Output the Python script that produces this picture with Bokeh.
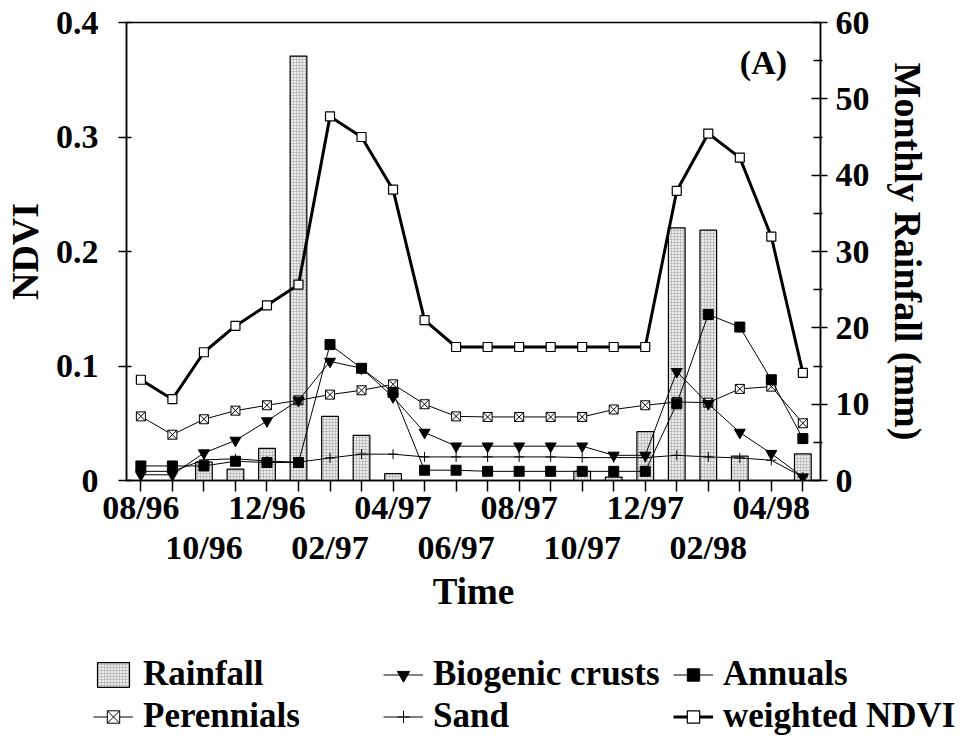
from bokeh.plotting import figure
from bokeh.models import Range1d, LinearAxis, FixedTicker, Legend, LegendItem
from bokeh.layouts import column
from bokeh.core.properties import value
from bokeh.embed import file_html
from bokeh.resources import INLINE

# ---------------- data ----------------
months = ["08/96", "09/96", "10/96", "11/96", "12/96", "01/97", "02/97", "03/97",
          "04/97", "05/97", "06/97", "07/97", "08/97", "09/97", "10/97", "11/97",
          "12/97", "01/98", "02/98", "03/98", "04/98", "05/98"]
rainfall = [0, 0, 2.4, 1.5, 4.2, 55.6, 8.4, 5.9, 0.9, 0, 0, 0, 0, 0, 1.2, 0.45,
            6.4, 33.1, 32.8, 3.2, 0, 3.5]
biogenic = [0.005, 0.005, 0.024, 0.035, 0.052, 0.070, 0.104, 0.098, 0.073, 0.042,
            0.030, 0.030, 0.030, 0.030, 0.030, 0.022, 0.022, 0.095, 0.067, 0.042,
            0.0235, 0.003]
annuals = [0.0127, 0.0127, 0.0127, 0.0168, 0.0157, 0.0157, 0.1187, 0.098, 0.077,
           0.009, 0.009, 0.008, 0.008, 0.008, 0.008, 0.008, 0.008, 0.067, 0.145,
           0.134, 0.088, 0.0366]
perennials = [0.056, 0.040, 0.0535, 0.061, 0.0657, 0.070, 0.075, 0.0788, 0.084,
              0.0666, 0.056, 0.0555, 0.0555, 0.0555, 0.0555, 0.062, 0.0657, 0.0686,
              0.068, 0.080, 0.082, 0.050]
sand = [0.008, 0.008, 0.018, 0.019, 0.017, 0.016, 0.0197, 0.023, 0.023, 0.0206,
        0.0206, 0.0206, 0.0206, 0.0206, 0.020, 0.020, 0.020, 0.022, 0.0206, 0.0197,
        0.0177, 0.003]
weighted = [0.088, 0.071, 0.112, 0.135, 0.153, 0.171, 0.318, 0.300, 0.254, 0.140,
            0.1166, 0.1166, 0.1166, 0.1166, 0.1166, 0.1166, 0.1166, 0.253, 0.303,
            0.282, 0.213, 0.094]
ndvi_ticks = [0, 0.1, 0.2, 0.3, 0.4]
ndvi_labels = ["0", "0.1", "0.2", "0.3", "0.4"]
rain_ticks = [0, 10, 20, 30, 40, 50, 60]
rain_minor = [5, 15, 25, 35, 45, 55]
legend_labels = ["Rainfall", "Perennials", "Biogenic crusts", "Sand", "Annuals",
                 "weighted NDVI"]

x = list(range(len(months)))
row1_idx = [i for i in x if i % 4 == 0]
row2_idx = [i for i in x if i % 4 == 2]

FONT = "Liberation Serif"
NAN = float("nan")

# ---------------- styles ----------------
BAR_STYLE = dict(fill_color="#ececec", line_color="black", line_width=1.2,
                 hatch_pattern="cross", hatch_scale=3, hatch_color="#a8a8a8",
                 hatch_weight=0.6)
THIN = dict(line_color="black", line_width=1)
THICK = dict(line_color="black", line_width=3)
PER_M = dict(marker="square_x", size=9, fill_color="white", line_color="black",
             line_width=1)
SAND_M = dict(marker="cross", size=10, line_color="black", line_width=1)
BIO_M = dict(marker="inverted_triangle", size=11, fill_color="black",
             line_color="black")
ANN_M = dict(marker="square", size=10, fill_color="black", line_color="black")
W_M = dict(marker="square", size=9, fill_color="white", line_color="black",
           line_width=1.2)

p = figure(width=963, height=640, output_backend="svg", toolbar_location=None,
           x_range=Range1d(-0.456, 21.56), y_range=Range1d(0, 0.4),
           x_axis_location=None, y_axis_location=None,
           min_border_left=125, min_border_right=143, min_border_top=22,
           min_border_bottom=160)
p.frame_align = False
p.extra_y_ranges = {"rain": Range1d(0, 60)}
p.xgrid.grid_line_color = None
p.ygrid.grid_line_color = None
p.outline_line_color = "black"
p.outline_line_width = 1.5
p.background_fill_color = "white"
p.border_fill_color = "white"


def style_axis(ax):
    ax.major_label_text_font = FONT
    ax.major_label_text_font_style = "bold"
    ax.major_label_text_font_size = "34px"
    ax.major_label_text_color = "black"
    ax.axis_label_text_font = FONT
    ax.axis_label_text_font_style = "bold"
    ax.axis_label_text_color = "black"
    ax.axis_line_color = "black"
    ax.axis_line_width = 1.5
    ax.major_tick_line_color = "black"
    ax.major_tick_line_width = 1.5
    ax.minor_tick_line_color = "black"
    ax.minor_tick_line_width = 1.5


# left axis
yl = LinearAxis(ticker=FixedTicker(ticks=ndvi_ticks), axis_label="NDVI")
style_axis(yl)
yl.major_label_overrides = {t: l for t, l in zip(ndvi_ticks, ndvi_labels)}
yl.major_tick_in = 5
yl.major_tick_out = 8
yl.minor_tick_line_color = None
yl.major_label_standoff = 20
yl.axis_label_standoff = 7
yl.axis_label_text_font_size = "38px"
p.add_layout(yl, "left")

# right axis
yr = LinearAxis(y_range_name="rain",
                ticker=FixedTicker(ticks=rain_ticks, minor_ticks=rain_minor),
                axis_label="Monthly Rainfall (mm)")
style_axis(yr)
yr.major_tick_in = 9
yr.major_tick_out = 7
yr.minor_tick_in = 7
yr.minor_tick_out = 2
yr.major_label_standoff = 8
yr.axis_label_standoff = 14
yr.axis_label_text_font_size = "38px"
p.add_layout(yr, "right")

# bottom axis, first row of labels
xb1 = LinearAxis(ticker=FixedTicker(ticks=x))
style_axis(xb1)
xb1.major_label_overrides = {i: (months[i] if i in row1_idx else "") for i in x}
xb1.major_tick_in = 0
xb1.major_tick_out = 11
xb1.minor_tick_line_color = None
xb1.major_label_standoff = -3
p.add_layout(xb1, "below")

# bottom axis, second row of labels
xb2 = LinearAxis(ticker=FixedTicker(ticks=row2_idx), axis_label="Time")
style_axis(xb2)
xb2.major_label_overrides = {i: months[i] for i in row2_idx}
xb2.axis_line_color = None
xb2.major_tick_line_color = None
xb2.minor_tick_line_color = None
xb2.major_tick_in = 0
xb2.major_tick_out = 0
xb2.major_label_standoff = 0
xb2.axis_label_standoff = 2
xb2.axis_label_text_font_size = "37px"
p.add_layout(xb2, "below")

# rainfall bars
p.vbar(x=x, top=rainfall, width=0.53, y_range_name="rain", **BAR_STYLE)

# series
p.line(x, perennials, **THIN)
p.scatter(x, perennials, **PER_M)
p.line(x, sand, **THIN)
p.scatter(x, sand, **SAND_M)
p.line(x, biogenic, **THIN)
p.scatter(x, biogenic, **BIO_M)
p.line(x, annuals, **THIN)
p.scatter(x, annuals, **ANN_M)
p.line(x, weighted, **THICK)
p.scatter(x, weighted, **W_M)

# panel tag
p.text(x=[19.75], y=[0.365], text=["(A)"], text_font=value(FONT),
       text_font_style="bold", text_font_size="34px", text_align="center",
       text_baseline="middle", text_color="black")

# ---------------- legend figure ----------------
lg = figure(width=963, height=100, output_backend="svg", toolbar_location=None,
            x_range=Range1d(0, 963), y_range=Range1d(0, 100),
            x_axis_location=None, y_axis_location=None, min_border=0)
lg.frame_align = False
lg.xgrid.grid_line_color = None
lg.ygrid.grid_line_color = None
lg.outline_line_color = None

# swatch renderers (no visible data; only used for the legend samples)
e = dict(x=[NAN], y=[NAN])
r_bar = [lg.vbar(x=[NAN], top=[NAN], width=1, **BAR_STYLE)]
r_per = [lg.line(**e, **THIN), lg.scatter(**e, **PER_M)]
r_bio = [lg.line(**e, **THIN), lg.scatter(**e, **BIO_M)]
r_sand = [lg.line(**e, **THIN), lg.scatter(**e, **SAND_M)]
r_ann = [lg.line(**e, **THIN), lg.scatter(**e, **ANN_M)]
r_w = [lg.line(**e, **THICK), lg.scatter(**e, **W_M)]

legend = Legend(items=[
    LegendItem(label=lab, renderers=rs)
    for lab, rs in zip(legend_labels, [r_bar, r_per, r_bio, r_sand, r_ann, r_w])
], location=(93, 3), orientation="vertical", nrows=2)
legend.label_text_font = FONT
legend.label_text_font_style = "bold"
legend.label_text_font_size = "35px"
legend.label_text_color = "black"
legend.glyph_width = 40
legend.glyph_height = 31
legend.label_standoff = 10
legend.label_width = 240
legend.label_height = 42
legend.spacing = 0
legend.padding = 0
legend.margin = 0
legend.border_line_color = None
legend.background_fill_alpha = 0
lg.add_layout(legend, "center")

layout = column(p, lg, spacing=0)
open("out.html", "w").write(file_html(layout, INLINE))
